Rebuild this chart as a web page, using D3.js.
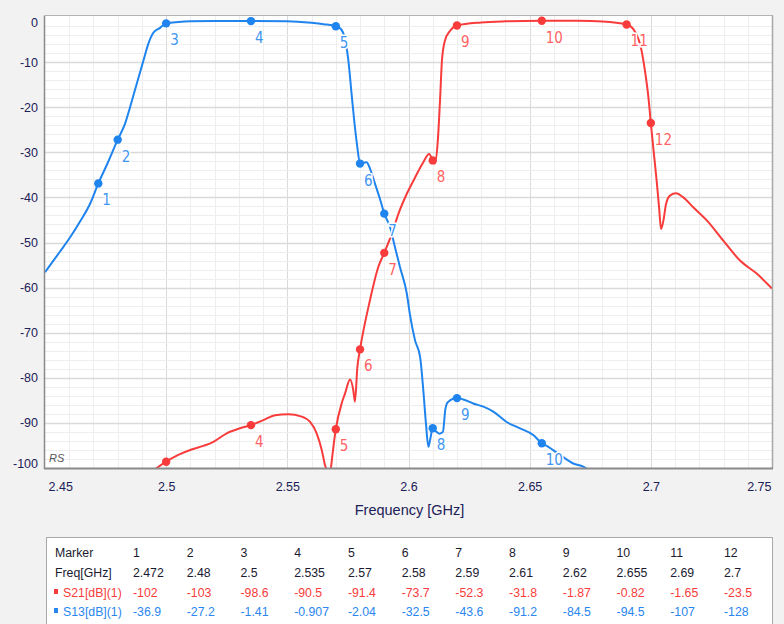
<!DOCTYPE html>
<html><head><meta charset="utf-8">
<script src="https://cdn.jsdelivr.net/npm/d3@7"></script>
<style>
body{margin:0;background:#f2f2f2;}
svg{display:block;font-family:"Liberation Sans",Arial,sans-serif;}
</style></head><body>
<svg id="c" width="784" height="624"></svg>
<script>
// ---- data ----
const xTicks = [2.45, 2.5, 2.55, 2.6, 2.65, 2.7, 2.75];
const yTicks = [0, -10, -20, -30, -40, -50, -60, -70, -80, -90, -100];

const s13Freq = [2.45, 2.4562, 2.4603, 2.4644, 2.4686, 2.472, 2.476, 2.48, 2.483, 2.4851, 2.4878, 2.4906, 2.4926, 2.4947, 2.4975, 2.5,
  2.505, 2.51, 2.52, 2.535, 2.55, 2.56, 2.565, 2.57, 2.572, 2.5736, 2.5752, 2.5765, 2.5778, 2.5788, 2.58,
  2.5827, 2.5841, 2.5862, 2.5882, 2.59, 2.5924, 2.5944, 2.5965, 2.5993, 2.6006, 2.6027, 2.6048, 2.6061, 2.6072, 2.6082, 2.6089, 2.61,
  2.6116, 2.6128, 2.6142, 2.6152, 2.6162, 2.62, 2.6226, 2.6267, 2.6309, 2.635, 2.6405, 2.646, 2.6515, 2.655, 2.6577, 2.6625, 2.668, 2.6721,
  2.68, 2.69, 2.7];
const s13dB = [-56.6, -52.0, -48.9, -45.4, -41.4, -36.9, -32.2, -27.2, -23.7, -20, -14.9, -9.7, -6, -3.5, -2.4, -1.41,
  -1.1, -0.95, -0.9, -0.907, -0.95, -1.3, -1.6, -2.04, -2.6, -4.5, -9.7, -17, -24, -28.5, -32.5,
  -32.2, -33.6, -37, -40.3, -43.6, -46.6, -51, -55.5, -61.3, -66, -71.7, -75.4, -82.7, -90.1, -95.3, -93.8, -91.2,
  -92, -92.4, -92, -87, -85.4, -84.5, -84.8, -85.7, -86.4, -87.5, -89.8, -91.2, -92.7, -94.5, -95.3, -97.1, -99, -99.7,
  -103, -107, -128];

const s21Freq = [2.49, 2.4962, 2.5, 2.505, 2.5105, 2.5153, 2.5195, 2.525, 2.5305, 2.535, 2.5401, 2.5449, 2.5504, 2.5559, 2.5594, 2.5621, 2.5642, 2.5655,
  2.5661, 2.5668, 2.5679, 2.57, 2.5724, 2.5738, 2.5759, 2.5772, 2.5779, 2.5789, 2.58, 2.5841, 2.5875, 2.59, 2.5931, 2.5958, 2.5993, 2.6027, 2.6061,
  2.6085, 2.61, 2.6108, 2.6121, 2.613, 2.6138, 2.615, 2.6171, 2.62, 2.63, 2.64, 2.655, 2.67, 2.68, 2.69,
  2.6928, 2.6962, 2.6976, 2.699, 2.7, 2.701, 2.7024, 2.7034, 2.7042, 2.7052, 2.7063, 2.7079, 2.7104, 2.7134, 2.7175, 2.7231, 2.7299, 2.7368, 2.7437, 2.75];
const s21dB = [-104, -100, -98.6, -97.1, -95.9, -95.1, -94.2, -92.3, -91.2, -90.5, -89.4, -88.3, -88.1, -88.6, -89.8, -92.3, -96, -99.3,
  -100.5, -106, -100.5, -91.4, -85.7, -83.5, -80.4, -82.7, -85.3, -77.6, -73.7, -62.8, -55.5, -52.3, -48.1, -43.7, -39.2, -35.6, -32.2,
  -30.4, -31.8, -32.5, -27.4, -18.6, -9.7, -5.3, -3.1, -1.87, -1.2, -0.95, -0.82, -0.85, -1.0, -1.65,
  -2.7, -7.5, -12, -17.8, -23.5, -28.9, -36.3, -42.2, -47, -45.1, -41.4, -39.6, -39.1, -40, -42.2, -45.1, -49.6, -54, -56.9, -60.2];

const markerNum  = [1, 2, 3, 4, 5, 6, 7, 8, 9, 10, 11, 12];
const markerFreq = [2.472, 2.48, 2.5, 2.535, 2.57, 2.58, 2.59, 2.61, 2.62, 2.655, 2.69, 2.7];
const markerS21  = [-102, -103, -98.6, -90.5, -91.4, -73.7, -52.3, -31.8, -1.87, -0.82, -1.65, -23.5];
const markerS13  = [-36.9, -27.2, -1.41, -0.907, -2.04, -32.5, -43.6, -91.2, -84.5, -94.5, -107, -128];

// ---- layout ----
const svg = d3.select("#c");
const L = 45, R = 772, T = 16, B = 468;
const x = d3.scaleLinear().domain([2.45, 2.75]).range([L, R]);
const y = d3.scaleLinear().domain([-100, 0]).range([B, 17]);
const blue = "#1f84ee", red = "#f83c3c";
const blueLbl = "#4196f2", redLbl = "#ff6363";
const txtCol = "#1c2157";

svg.append("rect").attr("width", 784).attr("height", 624).attr("fill", "#f2f2f2");
svg.append("rect").attr("x", L).attr("y", T - 0.5).attr("width", R - L).attr("height", B - T + 0.5).attr("fill", "#fff");

// grid
const g = svg.append("g");
const minorX = d3.range(1, 30).map(i => 2.45 + i * 0.01);
minorX.forEach(v => {
  const major = Math.abs(Math.round(v * 20) - v * 20) < 1e-6;
  g.append("line").attr("x1", Math.round(x(v)) + 0.5).attr("x2", Math.round(x(v)) + 0.5).attr("y1", T).attr("y2", B)
    .attr("stroke", major ? "#dadada" : "#eeeeee").attr("stroke-width", 1);
});
d3.range(-98, 0, 2).forEach(v => {
  const major = v % 10 === 0;
  g.append("line").attr("y1", Math.round(y(v)) + 0.5).attr("y2", Math.round(y(v)) + 0.5).attr("x1", L).attr("x2", R)
    .attr("stroke", major ? "#dadada" : "#eeeeee").attr("stroke-width", major ? 1.5 : 1);
});

// clip
svg.append("clipPath").attr("id", "pc").append("rect").attr("x", L).attr("y", T).attr("width", R - L).attr("height", B - T);
const plot = svg.append("g").attr("clip-path", "url(#pc)");

const line = d3.line().x(d => x(d[0])).y(d => y(d[1])).curve(d3.curveMonotoneX);
const s13 = s13Freq.map((f, i) => [f, s13dB[i]]);
const s21 = s21Freq.map((f, i) => [f, s21dB[i]]);
plot.append("path").attr("d", line(s21)).attr("fill", "none").attr("stroke", red).attr("stroke-width", 2).attr("stroke-linejoin", "round");
plot.append("path").attr("d", line(s13)).attr("fill", "none").attr("stroke", blue).attr("stroke-width", 2).attr("stroke-linejoin", "round");

// markers
function drawMarkers(vals, col, lcol) {
  markerFreq.forEach((f, i) => {
    const v = vals[i];
    if (v < -100.5) return;
    const cx = x(f), cy = y(v);
    plot.append("circle").attr("cx", cx).attr("cy", cy).attr("r", 4.2).attr("fill", col);
    if (cy + 22 > B) return; // label would fall below the plot
    plot.append("text").attr("x", cx + 4).attr("y", cy + 22).text(markerNum[i])
      .attr("font-family", "'Liberation Sans Narrow','DejaVu Sans Condensed',sans-serif").attr("font-size", 15)
      .attr("fill", lcol).attr("stroke", "#fff").attr("stroke-width", 3).attr("paint-order", "stroke");
  });
}
drawMarkers(markerS21, red, redLbl);
drawMarkers(markerS13, blue, blueLbl);

// frame
svg.append("line").attr("x1", L).attr("x2", R + 1).attr("y1", T - 0.5).attr("y2", T - 0.5).attr("stroke", "#b4b4b4");
svg.append("line").attr("x1", R + 0.5).attr("x2", R + 0.5).attr("y1", T - 0.5).attr("y2", B).attr("stroke", "#a8a8a8").attr("stroke-width", 1.5);
svg.append("line").attr("x1", L - 0.5).attr("x2", L - 0.5).attr("y1", T - 0.5).attr("y2", B + 1).attr("stroke", "#8a8a8a").attr("stroke-width", 1.5);
svg.append("line").attr("x1", L - 1).attr("x2", R + 1).attr("y1", B + 0.5).attr("y2", B + 0.5).attr("stroke", "#8a8a8a").attr("stroke-width", 2);

svg.append("text").attr("x", 49).attr("y", 462).text("RS").attr("font-size", 11).attr("font-style", "italic").attr("fill", "#555");

// axes
const yAxis = svg.append("g").attr("transform", `translate(${L - 7},0)`)
  .call(d3.axisLeft(y).tickValues(yTicks).tickSize(0).tickPadding(0).tickFormat(d => d));
yAxis.select(".domain").remove();
yAxis.selectAll("text").attr("font-size", 12.5).attr("fill", txtCol).attr("font-family", "'Liberation Sans',Arial,sans-serif")
  .attr("dy", d => d === 0 ? "0.75em" : d === -100 ? "-0.05em" : "0.32em");

const xAxis = svg.append("g").attr("transform", `translate(0,${B + 14})`)
  .call(d3.axisBottom(x).tickValues(xTicks).tickSize(0).tickPadding(0).tickFormat(d => d));
xAxis.select(".domain").remove();
xAxis.selectAll("text").attr("font-size", 12.5).attr("fill", txtCol).attr("font-family", "'Liberation Sans',Arial,sans-serif")
  .attr("text-anchor", d => d === 2.45 ? "start" : d === 2.75 ? "end" : "middle")
  .attr("dx", d => d === 2.45 ? 3 : d === 2.75 ? -1 : 0);

svg.append("text").attr("x", (L + R) / 2 + 1).attr("y", 515).attr("text-anchor", "middle")
  .attr("font-size", 14.5).attr("fill", txtCol).attr("font-weight", 500).text("Frequency [GHz]");

// table
svg.append("rect").attr("x", 46.5).attr("y", 537.5).attr("width", 726).attr("height", 100).attr("fill", "#fff").attr("stroke", "#a9a9a9");
const colX = d3.scaleLinear().domain([1, 12]).range([133, 724]);
const rows = [
  {label: "Marker", vals: markerNum, col: "#1a1a30", y: 557},
  {label: "Freq[GHz]", vals: markerFreq, col: "#1a1a30", y: 577},
  {label: "S21[dB](1)", vals: markerS21, col: red, y: 597, sq: red},
  {label: "S13[dB](1)", vals: markerS13, col: "#2a86ef", y: 616, sq: "#2a86ef"}
];
const tb = svg.append("g").attr("font-size", 12.3).attr("font-family", "'Liberation Sans',Arial,sans-serif");
rows.forEach(r => {
  if (r.sq) {
    tb.append("rect").attr("x", 54).attr("y", r.y - 8).attr("width", 4).attr("height", 5).attr("fill", r.sq);
    tb.append("text").attr("x", 63).attr("y", r.y).attr("fill", r.col).text(r.label);
  } else {
    tb.append("text").attr("x", 55).attr("y", r.y).attr("fill", r.col).text(r.label);
  }
  r.vals.forEach((v, i) => {
    tb.append("text").attr("x", colX(i + 1)).attr("y", r.y).attr("fill", r.col).text(String(v));
  });
});
</script>
</body></html>
